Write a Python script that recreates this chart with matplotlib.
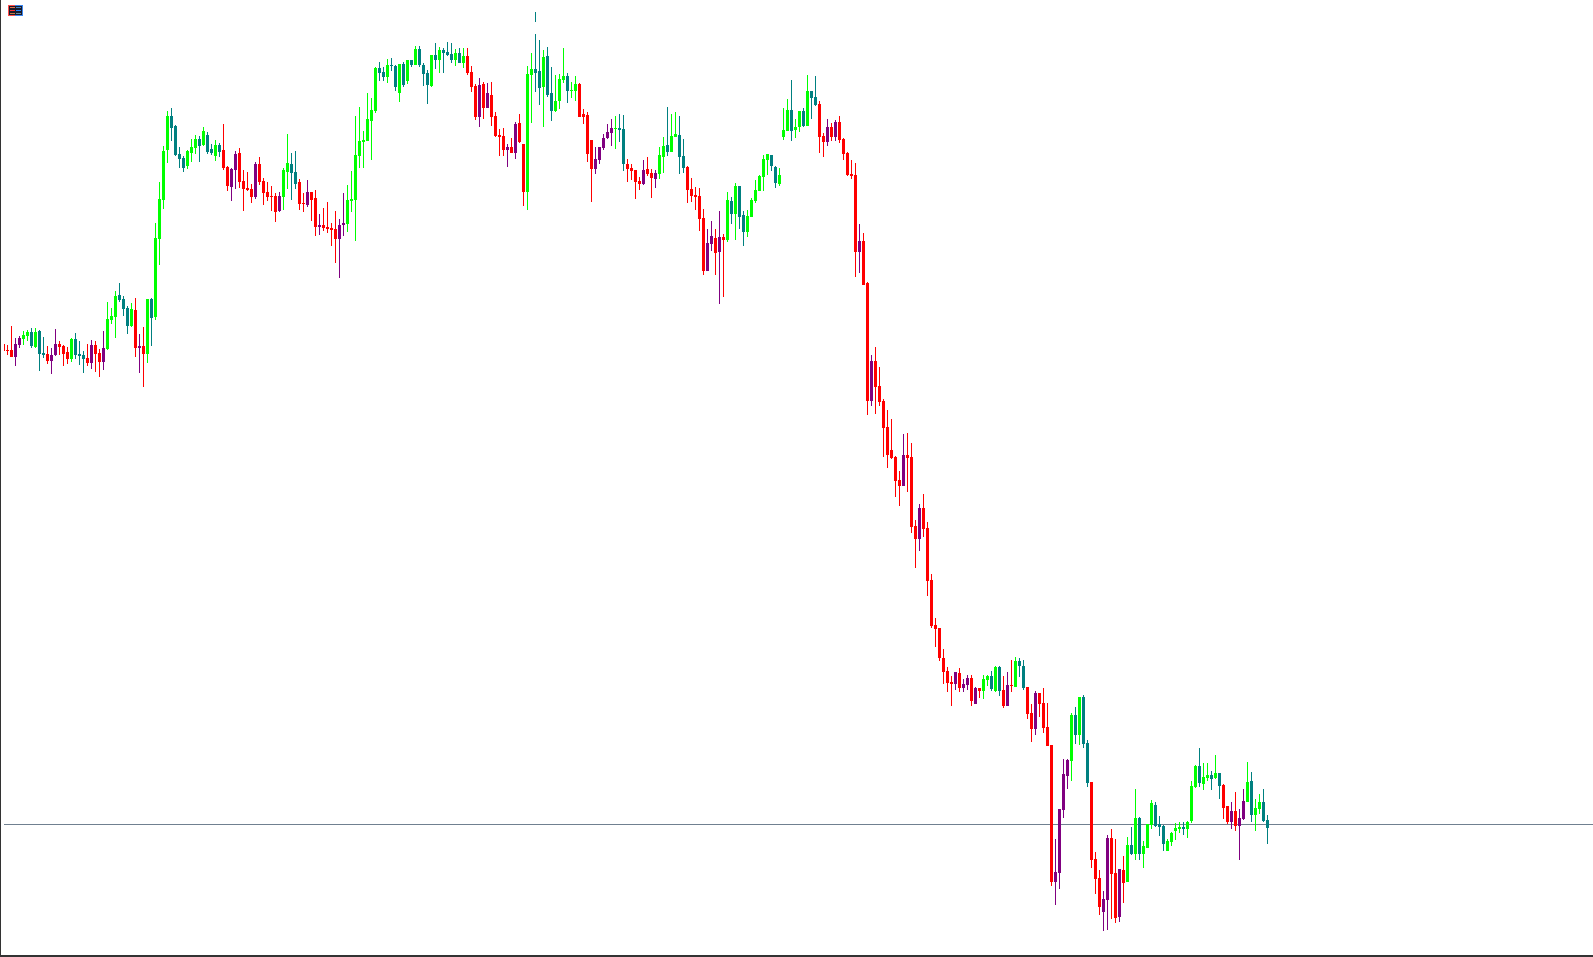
import matplotlib
matplotlib.use("Agg")
import matplotlib.pyplot as plt
from matplotlib.patches import Rectangle

# Chart levels (larger level = lower on the chart)
highs = [
 344,345,326,338,336,331,330,328,328,330,
 337,346,348,329,341,345,347,338,333,341,
 351,344,340,341,349,331,302,308,291,283,
 296,306,303,298,334,327,299,298,223,182,
 146,111,108,125,147,156,150,139,135,136,
 127,132,144,140,143,124,166,168,151,148,
 170,172,184,162,157,178,182,186,193,192,
 168,134,153,151,179,193,180,192,190,214,
 208,202,223,211,219,193,185,171,116,107,
 131,93,98,67,62,67,59,58,65,64,
 62,60,60,46,46,63,70,55,43,47,
 48,42,43,49,48,48,48,66,84,78,
 82,83,82,112,129,128,144,138,122,114,
 144,66,53,34,40,50,47,67,75,74,
 48,73,82,76,83,109,112,140,147,147,
 134,124,119,116,114,115,159,164,170,177,
 160,157,169,170,147,137,107,114,112,116,
 139,166,178,187,188,209,229,221,229,211,
 234,192,197,183,186,211,210,198,180,175,
 155,154,155,166,168,108,99,80,119,111,
 108,75,91,76,101,133,119,123,120,116,
 138,152,160,163,224,233,282,355,347,367,
 399,410,419,456,471,434,433,443,520,504,
 494,522,574,618,628,649,667,676,672,668,
 679,675,675,687,688,675,675,671,666,666,
 676,672,660,657,658,660,687,704,691,693,
 688,703,745,839,809,759,759,713,707,697,
 695,740,782,852,870,891,835,829,839,869,
 856,837,827,789,817,841,824,800,802,816,
 825,839,832,823,822,822,821,781,765,748,
 763,763,771,755,773,784,806,802,792,809,
 789,762,772,799,794,789,815]
body_tops = [
 344,350,350,344,338,335,332,332,332,331,
 353,354,355,344,344,346,352,339,339,354,
 355,358,345,345,353,348,319,316,296,295,
 299,308,309,310,346,346,299,299,238,199,
 151,116,116,126,154,158,151,147,139,139,
 131,135,149,145,145,150,167,169,154,153,
 181,188,189,164,164,181,192,196,196,196,
 170,163,164,172,182,203,192,192,198,225,
 225,227,228,229,225,223,200,199,155,141,
 140,119,110,68,68,72,65,65,66,64,
 64,60,60,49,49,65,73,55,55,50,
 50,52,54,53,53,56,56,72,86,85,
 84,93,95,116,135,136,147,147,124,123,
 144,74,69,69,71,57,56,93,101,79,
 76,76,90,84,84,114,115,140,159,147,
 138,132,128,128,128,129,164,168,170,181,
 170,169,173,173,155,146,145,136,134,135,
 156,167,189,195,196,218,243,236,238,237,
 237,200,201,186,186,215,216,200,190,176,
 159,154,155,167,175,130,110,110,127,111,
 111,91,91,97,104,136,127,127,122,122,
 139,153,174,175,241,241,283,361,361,386,
 401,427,450,457,480,455,455,457,526,508,
 508,528,580,625,628,658,671,682,672,673,
 684,678,678,688,688,679,676,676,667,667,
 690,685,685,661,661,666,687,713,693,693,
 703,727,745,872,809,774,760,715,715,697,
 697,743,782,859,878,899,838,838,873,869,
 870,845,845,818,818,846,824,803,805,824,
 826,841,833,828,827,827,822,786,766,766,
 777,775,775,773,773,785,806,811,811,818,
 801,782,781,808,802,802,820]
body_bottoms = [
 351,351,357,357,345,339,336,346,347,354,
 355,361,361,355,347,354,359,359,355,356,
 359,363,363,354,362,362,349,320,317,300,
 309,326,326,348,348,354,354,318,317,239,
 200,150,128,155,159,168,166,153,148,146,
 145,152,153,156,152,168,186,187,170,182,
 189,190,197,197,182,193,197,197,212,211,
 197,172,173,184,204,204,205,200,227,227,
 228,229,230,239,239,225,224,201,200,156,
 142,141,121,111,73,77,77,66,87,93,
 85,81,65,65,65,74,85,86,60,60,
 53,55,60,60,63,63,73,87,117,117,
 108,108,117,136,137,150,150,153,153,142,
 192,192,75,73,88,87,95,111,111,101,
 80,91,91,91,117,117,154,169,169,160,
 148,138,133,129,130,164,169,171,182,184,
 184,174,178,179,174,157,152,152,137,157,
 168,190,196,197,219,271,271,244,253,252,
 240,240,214,214,217,232,232,217,201,191,
 177,160,166,183,184,137,131,131,130,127,
 126,126,98,105,137,142,142,137,137,140,
 154,175,176,252,252,285,401,401,387,402,
 428,455,458,481,486,486,458,527,539,539,
 529,581,626,629,658,672,683,684,684,688,
 688,685,701,704,691,691,680,689,691,691,
 706,706,686,687,666,688,714,729,729,704,
 728,746,882,882,873,810,776,761,735,735,
 744,783,860,879,907,912,900,874,918,917,
 883,882,854,854,854,854,848,825,826,827,
 844,851,842,831,829,829,829,821,787,783,
 784,778,779,778,786,808,822,822,826,826,
 819,802,815,815,809,821,828]
lows = [
 351,355,357,366,348,345,341,348,348,371,
 358,364,374,356,355,366,364,362,359,365,
 373,366,369,372,377,370,350,324,338,302,
 316,334,327,357,373,387,363,346,320,265,
 209,163,141,156,168,172,169,162,154,162,
 146,154,155,161,157,170,191,201,189,188,
 211,191,203,199,185,205,201,211,222,212,
 210,189,200,189,210,212,207,221,236,235,
 231,233,246,263,278,236,232,212,241,168,
 168,141,160,113,81,81,83,71,91,102,
 87,84,67,65,67,86,104,87,69,73,
 73,56,63,66,63,68,75,92,120,127,
 119,108,126,137,156,156,167,153,159,143,
 206,210,123,92,105,127,97,121,112,109,
 83,103,98,101,117,124,162,202,174,164,
 150,139,146,149,142,171,182,180,199,190,
 185,176,198,188,179,173,156,152,137,174,
 173,203,202,210,231,275,271,251,275,304,
 297,242,224,240,229,246,237,217,203,191,
 191,175,171,188,186,140,131,141,138,132,
 127,126,119,106,153,157,146,141,141,143,
 160,176,179,277,273,285,415,406,414,406,
 457,468,459,497,506,486,492,533,568,551,
 537,596,628,647,661,684,692,706,690,692,
 692,690,706,704,698,699,686,691,692,696,
 708,706,692,687,677,690,719,742,735,717,
 733,746,886,905,889,818,789,781,744,745,
 748,787,868,894,915,931,930,919,923,922,
 903,882,855,860,860,868,848,829,827,836,
 851,851,846,840,833,835,838,823,788,787,
 790,781,790,779,799,819,824,829,831,860,
 820,802,822,831,814,822,844]
kinds = (
 "rrrppggtgt" "trpprrrgtt" "trprrpgggt" "ttgrprgtgg" "ggttttgggt"
 "gttgtrrppr" "rrrprrrrrp" "ggttrrprrp" "rrrrppgggg" "ggggttgttg"
 "tgtgtttgtg" "tttgtgrrrp" "rprrrrprpr" "rggttgttgg" "gtggrrrrpp"
 "pppgttrrrr" "prrpggtggt" "trrrrrpprp" "rgtgttgggg" "ggttgggtgg"
 "tgttrrprpr" "rrrrprrprr" "rrrrrprrrp" "rrrrrrrrpr" "pprprggtgt"
 "rprgttrrpr" "rrrppppgtg" "ttrrrpprrp" "rgtgtgggtt" "tggggtgggt"
 "ggtgtrrprp" "pgtggtt")
# Detached wick fragment above one candle
gap_index = [133]
gap_top = [12]
gap_bottom = [22]
last_level = [824.5]

palette = {"g": "#00FF00", "t": "#008080", "r": "#FF0000", "p": "#800080"}

W, H = 1593, 957
fig = plt.figure(figsize=(W / 100, H / 100), dpi=100, facecolor="white")

def px_rect(x0, y0, x1, y1, color):
    fig.add_artist(Rectangle((x0 / W, 1 - y1 / H), (x1 - x0) / W, (y1 - y0) / H,
                             transform=fig.transFigure, facecolor=color,
                             edgecolor="none", antialiased=False))

# Plot starts 4 px from the left edge, candle spacing is 4 px
ax = fig.add_axes([4 / W, 0, (W - 4) / W, 1])
ax.set_xlim((4 - 3.5) / 4, (W - 3.5) / 4)
ax.set_ylim(H, 0)
ax.axis("off")

# Drawn as a one-pixel band so that it lands on the same pixel row as the reference
ax.bar([(W - 3.5 + 4 - 3.5) / 8], [1], bottom=[last_level[0] - 0.5], width=(W - 4) / 4,
       color="#708090", linewidth=0, antialiased=False, zorder=1)

xs = list(range(len(highs)))
colors = [palette[k] for k in kinds]
ax.bar(xs, [l - h for h, l in zip(highs, lows)], bottom=highs, width=0.25,
       color=colors, linewidth=0, antialiased=False, zorder=2)
ax.bar(xs, [b - t for t, b in zip(body_tops, body_bottoms)], bottom=body_tops, width=0.75,
       color=colors, linewidth=0, antialiased=False, zorder=3)
ax.bar(gap_index, [b - t for t, b in zip(gap_top, gap_bottom)], bottom=gap_top, width=0.25,
       color=palette["t"], linewidth=0, antialiased=False, zorder=2)

# Window frame
px_rect(0, 0, 1, H, "#333333")
px_rect(0, H - 2, W, H, "#333333")

# Small toolbar icon, top left
px_rect(8, 5, 15.5, 16, "#FF4D4D")
px_rect(15.5, 5, 23, 16, "#3A86F0")
px_rect(9, 6, 22, 15, "#1A1A2A")
for row, (c1, c2) in zip((7, 10, 13), (("#E8704A", "#3A86C8"), ("#FF3030", "#2A86FF"), ("#C87840", "#6A8AA0"))):
    px_rect(10, row, 15, row + 1, c1)
    px_rect(16, row, 21, row + 1, c2)

fig.savefig("out.png", dpi=100, facecolor="white")
